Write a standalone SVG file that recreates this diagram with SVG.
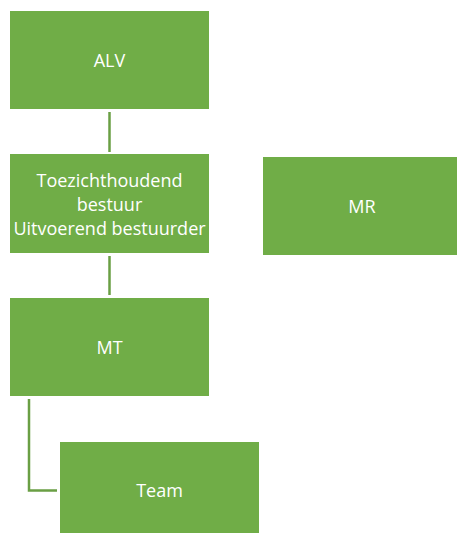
<svg xmlns="http://www.w3.org/2000/svg" width="457" height="533" viewBox="0 0 457 533">
<style>
.box{fill:#70AD47;stroke:#ffffff;stroke-width:1}
.lbl{fill:#ffffff;font-family:"Open Sans","Noto Sans","Liberation Sans",sans-serif;font-size:18px;text-anchor:middle;dominant-baseline:central}
.conn{fill:none;stroke:#6A9F44;stroke-width:2.5}
</style>
<rect width="457" height="533" fill="#ffffff"/>
<g id="connectors">
<line class="conn" x1="109.5" y1="112" x2="109.5" y2="152"/>
<line class="conn" x1="109.5" y1="256" x2="109.5" y2="295"/>
<polyline class="conn" points="29,399 29,490.5 57,490.5"/>
</g>
<g id="alv">
<rect class="box" x="9.5" y="10.5" width="200" height="99"/>
<text class="lbl" x="109.5" y="60">ALV</text>
</g>
<g id="bestuur">
<rect class="box" x="9.5" y="153.5" width="200" height="100"/>
<text class="lbl" x="109.5" y="180">Toezichthoudend</text>
<text class="lbl" x="109.5" y="204">bestuur</text>
<text class="lbl" x="109.5" y="228">Uitvoerend bestuurder</text>
</g>
<g id="mr">
<rect class="box" x="262.5" y="156.5" width="196" height="99"/>
<text class="lbl" x="362" y="206">MR</text>
</g>
<g id="mt">
<rect class="box" x="9.5" y="297.5" width="200" height="99"/>
<text class="lbl" x="109.5" y="347">MT</text>
</g>
<g id="team">
<rect class="box" x="59.5" y="441.5" width="200" height="93"/>
<text class="lbl" x="159.5" y="490">Team</text>
</g>
</svg>
